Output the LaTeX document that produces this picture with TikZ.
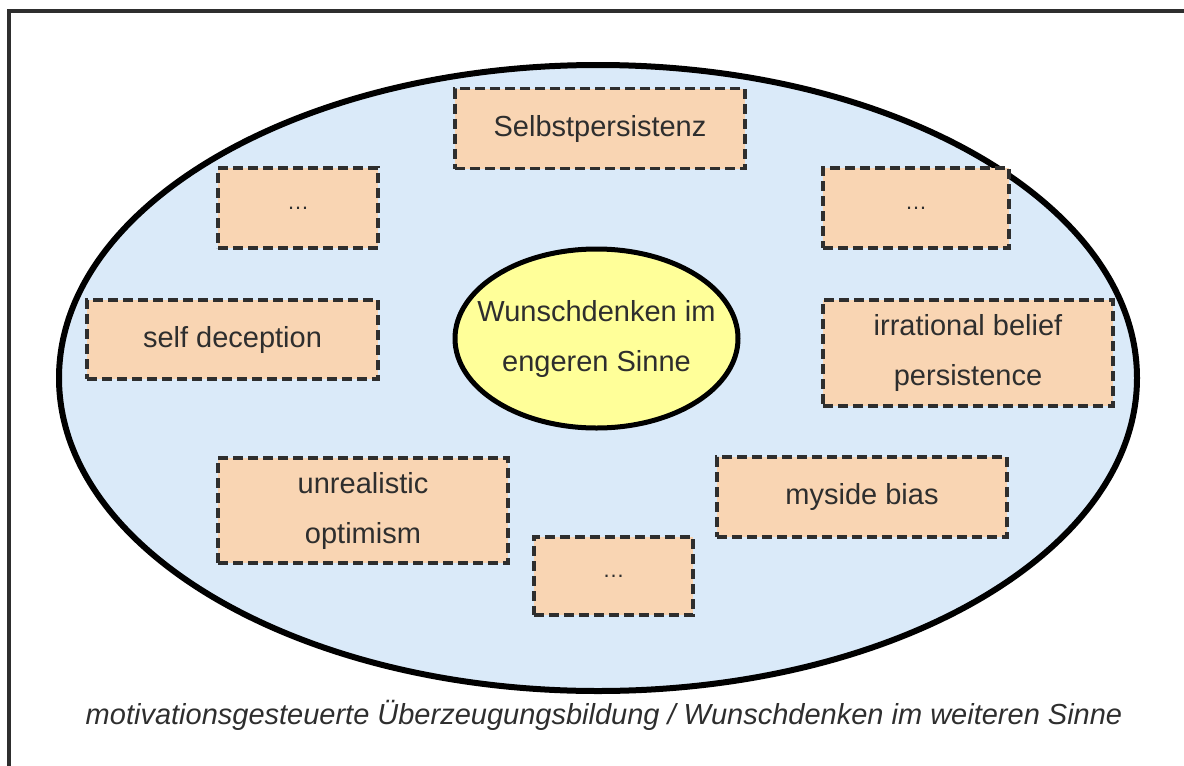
\documentclass[tikz,border=0pt]{standalone}
\usepackage{fontspec}
\setmainfont{Liberation Sans}
\usetikzlibrary{shapes}

\definecolor{bgblue}{HTML}{DAEAF9}
\definecolor{peach}{HTML}{F9D5B3}
\definecolor{lemon}{HTML}{FFFF99}
\definecolor{ink}{HTML}{2E2E2E}

\begin{document}
\begin{tikzpicture}[x=1pt,y=-1pt,
    box/.style={draw=ink, fill=peach, line width=3.2pt, dash pattern=on 10pt off 5pt, text=ink, align=center, inner sep=0pt, font=\fontsize{29}{50}\selectfont},
    dots/.style={box, font=\fontsize{22}{24}\selectfont}]
        \useasboundingbox (0,0) rectangle (1184,766);
        \draw[ink, line width=3.5pt] (9,11) rectangle (1200,780);
        \node[ellipse, draw, fill=bgblue, line width=6pt, minimum width=1078, minimum height=626] (A) at (598,378) {};
        \node[ellipse, draw, fill=lemon, line width=5pt, minimum width=283, minimum height=179, text=ink, align=center, inner xsep=-19pt, inner ysep=0pt, font=\fontsize{29}{50}\selectfont] (W) at (596.5,338.5) {Wunschdenken im\\engeren Sinne};
        \node[box, minimum width=290, minimum height=80] (S) at (600,128.5) {Selbstpersistenz};
        \node[dots, minimum width=160, minimum height=80] (D1) at (298,208) {\dots};
        \node[dots, minimum width=186, minimum height=80] (D2) at (916,208) {\dots};
        \node[box, minimum width=291, minimum height=79] (SD) at (232.5,339.5) {self deception};
        \node[box, minimum width=290, minimum height=106] (IB) at (968,353) {irrational belief\\persistence};
        \node[box, minimum width=290, minimum height=105] (UO) at (363,510.5) {unrealistic\\optimism};
        \node[box, minimum width=290, minimum height=80] (MB) at (862,497) {myside bias};
        \node[dots, minimum width=159, minimum height=78] (D3) at (613.5,576) {\dots};
        \node[text=ink, font=\fontsize{29}{32}\selectfont\itshape] (C) at (604,715) {motivationsgesteuerte Überzeugungsbildung / Wunschdenken im weiteren Sinne};
    \end{tikzpicture}
\end{document}
